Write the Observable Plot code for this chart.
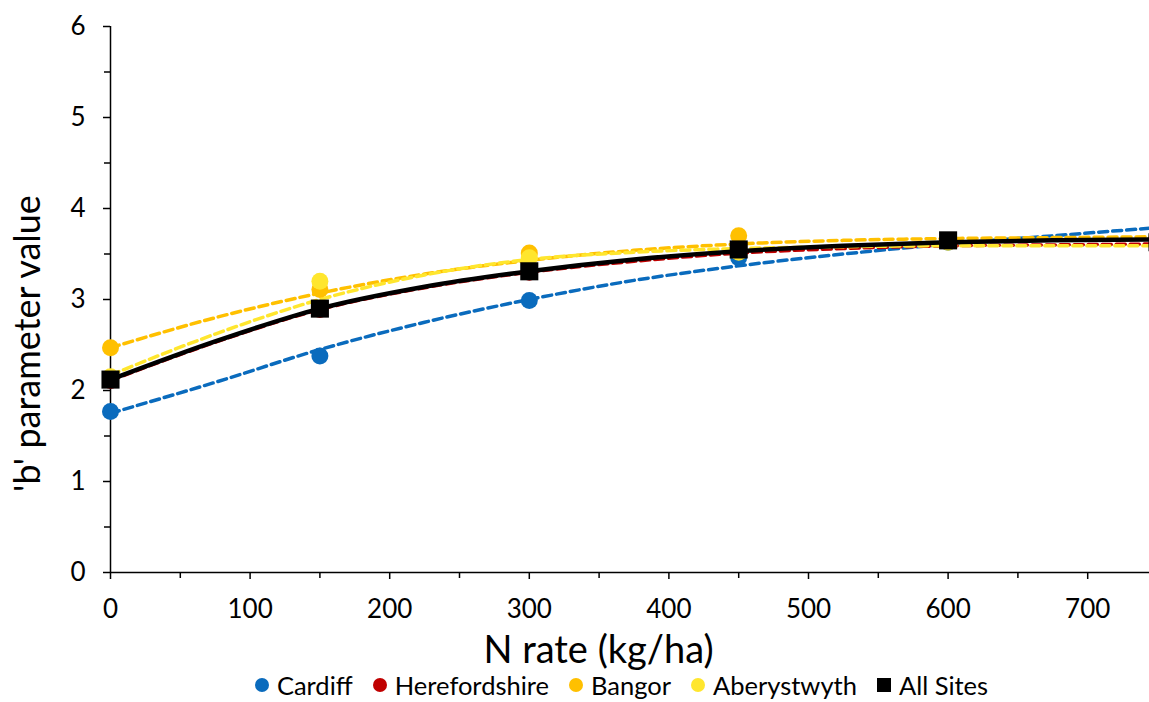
<!DOCTYPE html>
<html>
<head>
<meta charset="utf-8">
<script src="https://cdn.jsdelivr.net/npm/d3@7"></script>
<script src="https://cdn.jsdelivr.net/npm/@observablehq/plot@0.6"></script>
<style>
  html, body { margin: 0; padding: 0; background: #fff; overflow: hidden; }
  body { font-family: Lato, "Open Sans", sans-serif; color: #000; }
  #chart svg { display: block; overflow: visible; }
  #legend { display: flex; justify-content: center; align-items: center; height: 28px; line-height: 28px; font-size: 25.5px; padding-left: 94px; }
  .item { display: flex; align-items: center; margin: 0 10px; }
  .sw { display: inline-block; width: 14px; height: 14px; margin-right: 8px; }
  .sw.c { border-radius: 50%; }
</style>
</head>
<body>
<div id="chart"></div>
<div id="legend"></div>
<script>
// ---- data ----
const rates = [0, 150, 300, 450, 600, 750];
const cardiff       = [1.77, 2.38, 2.99, 3.46, 3.63, 3.70];
const herefordshire = [2.11, 2.89, 3.30, 3.54, 3.64, 3.55];
const bangor        = [2.47, 3.11, 3.51, 3.70, 3.64, 3.62];
const aberystwyth   = [2.15, 3.20, 3.46, 3.52, 3.63, 3.60];
const allSites      = [2.12, 2.90, 3.31, 3.55, 3.65, 3.63];

// fitted trend curves, read at regular N rates
const trendRates = [0, 75, 150, 225, 300, 375, 450, 525, 600, 675, 750];
const cardiffTrend       = [1.75, 2.09, 2.45, 2.75, 3.00, 3.21, 3.37, 3.50, 3.61, 3.70, 3.79];
const herefordshireTrend = [2.11, 2.53, 2.89, 3.13, 3.30, 3.42, 3.51, 3.56, 3.59, 3.60, 3.61];
const bangorTrend        = [2.47, 2.80, 3.07, 3.28, 3.43, 3.54, 3.61, 3.65, 3.67, 3.68, 3.69];
const aberystwythTrend   = [2.17, 2.62, 3.00, 3.27, 3.44, 3.52, 3.56, 3.58, 3.59, 3.59, 3.59];
const allSitesTrend      = [2.12, 2.54, 2.90, 3.14, 3.31, 3.44, 3.53, 3.59, 3.63, 3.65, 3.66];

const seriesNames  = ["Cardiff", "Herefordshire", "Bangor", "Aberystwyth", "All Sites"];
const seriesColors = ["#0A6BBD", "#C00000", "#FFC000", "#FFE62E", "#000000"];
const seriesValues = [cardiff, herefordshire, bangor, aberystwyth, allSites];
const seriesTrends = [cardiffTrend, herefordshireTrend, bangorTrend, aberystwythTrend, allSitesTrend];

const xDomain = [0, 750];
const yDomain = [0, 6];
const xTicks = [0, 100, 200, 300, 400, 500, 600, 700];
const xMinorTicks = [50, 150, 250, 350, 450, 550, 650, 750];
const yTicks = [0, 1, 2, 3, 4, 5, 6];
const yMinorTicks = [0.5, 1.5, 2.5, 3.5, 4.5, 5.5];
const xTitle = "N rate (kg/ha)";
const yTitle = "'b' parameter value";

// ---- build tables ----
const points = seriesNames.flatMap((s, k) => rates.map((r, i) => ({series: s, k, rate: r, value: seriesValues[k][i]})));
const trends = seriesNames.flatMap((s, k) => trendRates.map((r, i) => ({series: s, k, rate: r, value: seriesTrends[k][i]})));

const lineMarks = seriesNames.map((s, k) =>
  Plot.line(trends.filter(d => d.series === s), {
    x: "rate", y: "value", curve: "monotone-x",
    stroke: seriesColors[k],
    strokeWidth: s === "All Sites" ? 4.5 : 3.5,
    strokeDasharray: s === "All Sites" ? null : "9,5"
  })
);
const dotMarks = seriesNames.map((s, k) =>
  Plot.dot(points.filter(d => d.series === s), {
    x: "rate", y: "value",
    fill: seriesColors[k], stroke: "none",
    symbol: s === "All Sites" ? "square" : "circle",
    r: s === "All Sites" ? 10.2 : 8.5
  })
);

const chart = Plot.plot({
  width: 1149, height: 671,
  marginTop: 26, marginBottom: 99, marginLeft: 110, marginRight: 63,
  x: {domain: xDomain, range: [110, 1157]},
  y: {domain: yDomain},
  style: {fontFamily: "Lato, 'Open Sans', sans-serif", color: "#000", background: "#fff"},
  marks: [
    Plot.ruleX([0], {stroke: "#000", strokeWidth: 1.5}),
    Plot.ruleY([0], {x1: xDomain[0], x2: xDomain[1], stroke: "#000", strokeWidth: 1.5}),
    Plot.axisY({ticks: yTicks, tickSize: 7, tickPadding: 18, fontSize: 26, label: null, tickFormat: d => String(d), strokeWidth: 1.5}),
    Plot.axisY({ticks: yMinorTicks, tickSize: 6, tickFormat: () => "", label: null, strokeWidth: 1.5}),
    Plot.axisX({ticks: xTicks, tickSize: 7, tickPadding: 20, fontSize: 26, label: null, tickFormat: d => String(d), strokeWidth: 1.5}),
    Plot.axisX({ticks: xMinorTicks, tickSize: 6, tickFormat: () => "", label: null, strokeWidth: 1.5}),
    ...lineMarks,
    ...dotMarks,
    Plot.text([yTitle], {frameAnchor: "left", rotate: -90, textAnchor: "middle", lineAnchor: "middle", dx: -82, dy: 44, fontSize: 36}),
    Plot.text([xTitle], {frameAnchor: "bottom", textAnchor: "middle", lineAnchor: "middle", dy: 78, fontSize: 38})
  ]
});
document.getElementById("chart").appendChild(chart);

// ---- legend ----
const legend = document.getElementById("legend");
seriesNames.forEach((s, k) => {
  const item = document.createElement("span");
  item.className = "item";
  const sw = document.createElement("span");
  sw.className = "sw" + (s === "All Sites" ? "" : " c");
  sw.style.background = seriesColors[k];
  item.appendChild(sw);
  item.appendChild(document.createTextNode(s));
  legend.appendChild(item);
});
</script>
</body>
</html>
